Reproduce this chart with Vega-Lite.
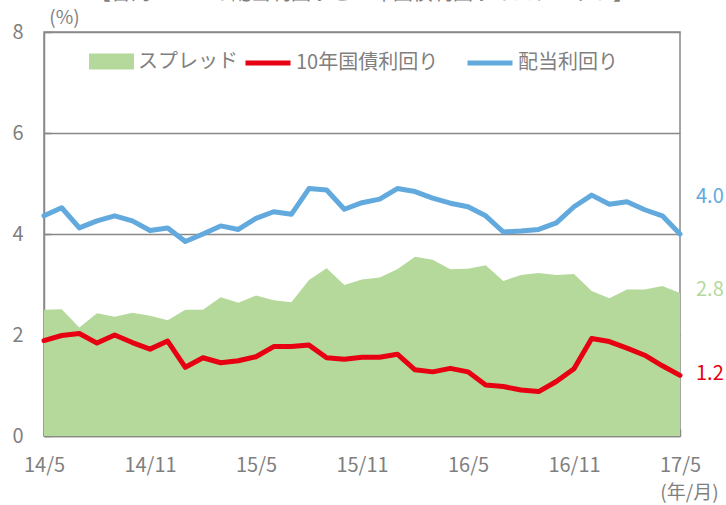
{
  "$schema": "https://vega.github.io/schema/vega-lite/v6.json",
  "width": 636,
  "height": 404,
  "autosize": "none",
  "padding": {"left": 44, "top": 32, "right": 46, "bottom": 69},
  "background": "white",
  "title": {
    "text": "【台湾リートの配当利回りと10年国債利回りのスプレッド】",
    "fontSize": 20,
    "fontWeight": "normal",
    "color": "#7f7f7f",
    "font": "Noto Sans CJK JP",
    "anchor": "middle",
    "offset": 4
  },
  "config": {
    "view": {"stroke": "#898989", "strokeWidth": 1.5},
    "font": "Noto Sans CJK JP"
  },
  "data": {
    "values": [
      {"month": "14/5", "spread": 2.50, "bond": 1.89, "dividend": 4.36},
      {"month": "14/6", "spread": 2.51, "bond": 1.99, "dividend": 4.52},
      {"month": "14/7", "spread": 2.15, "bond": 2.03, "dividend": 4.12},
      {"month": "14/8", "spread": 2.43, "bond": 1.84, "dividend": 4.26},
      {"month": "14/9", "spread": 2.36, "bond": 2.00, "dividend": 4.36},
      {"month": "14/10", "spread": 2.44, "bond": 1.85, "dividend": 4.26},
      {"month": "14/11", "spread": 2.38, "bond": 1.72, "dividend": 4.07},
      {"month": "14/12", "spread": 2.29, "bond": 1.88, "dividend": 4.12},
      {"month": "15/1", "spread": 2.50, "bond": 1.36, "dividend": 3.85},
      {"month": "15/2", "spread": 2.50, "bond": 1.55, "dividend": 4.00},
      {"month": "15/3", "spread": 2.75, "bond": 1.45, "dividend": 4.16},
      {"month": "15/4", "spread": 2.64, "bond": 1.49, "dividend": 4.09},
      {"month": "15/5", "spread": 2.78, "bond": 1.57, "dividend": 4.31},
      {"month": "15/6", "spread": 2.69, "bond": 1.77, "dividend": 4.44},
      {"month": "15/7", "spread": 2.65, "bond": 1.77, "dividend": 4.39},
      {"month": "15/8", "spread": 3.09, "bond": 1.80, "dividend": 4.90},
      {"month": "15/9", "spread": 3.32, "bond": 1.55, "dividend": 4.87},
      {"month": "15/10", "spread": 2.99, "bond": 1.52, "dividend": 4.49},
      {"month": "15/11", "spread": 3.10, "bond": 1.56, "dividend": 4.62},
      {"month": "15/12", "spread": 3.14, "bond": 1.56, "dividend": 4.69},
      {"month": "16/1", "spread": 3.30, "bond": 1.62, "dividend": 4.90},
      {"month": "16/2", "spread": 3.55, "bond": 1.31, "dividend": 4.84},
      {"month": "16/3", "spread": 3.49, "bond": 1.27, "dividend": 4.71},
      {"month": "16/4", "spread": 3.30, "bond": 1.34, "dividend": 4.61},
      {"month": "16/5", "spread": 3.31, "bond": 1.27, "dividend": 4.54},
      {"month": "16/6", "spread": 3.38, "bond": 1.01, "dividend": 4.36},
      {"month": "16/7", "spread": 3.07, "bond": 0.98, "dividend": 4.04},
      {"month": "16/8", "spread": 3.19, "bond": 0.91, "dividend": 4.06},
      {"month": "16/9", "spread": 3.23, "bond": 0.88, "dividend": 4.09},
      {"month": "16/10", "spread": 3.19, "bond": 1.08, "dividend": 4.22},
      {"month": "16/11", "spread": 3.21, "bond": 1.33, "dividend": 4.54},
      {"month": "16/12", "spread": 2.87, "bond": 1.93, "dividend": 4.77},
      {"month": "17/1", "spread": 2.73, "bond": 1.87, "dividend": 4.59},
      {"month": "17/2", "spread": 2.90, "bond": 1.74, "dividend": 4.64},
      {"month": "17/3", "spread": 2.90, "bond": 1.60, "dividend": 4.48},
      {"month": "17/4", "spread": 2.97, "bond": 1.39, "dividend": 4.36},
      {"month": "17/5", "spread": 2.83, "bond": 1.20, "dividend": 4.00}
    ]
  },
  "transform": [{"fold": ["spread", "bond", "dividend"], "as": ["series", "value"]}],
  "encoding": {
    "x": {
      "field": "month",
      "type": "ordinal",
      "sort": null,
      "scale": {"type": "point", "padding": 0},
      "axis": {
        "values": ["14/5", "14/11", "15/5", "15/11", "16/5", "16/11", "17/5"],
        "labelAngle": 0,
        "labelFontSize": 20,
        "labelColor": "#7f7f7f",
        "labelPadding": 26,
        "domainColor": "#898989",
        "domainWidth": 1.5,
        "tickColor": "#898989",
        "tickWidth": 1.5,
        "tickSize": -7,
        "grid": false,
        "title": "(年/月)",
        "titleFontSize": 19,
        "titleFontWeight": "normal",
        "titleColor": "#7f7f7f",
        "titleAngle": 0,
        "titleX": 645,
        "titleY": 56,
        "titleAlign": "center",
        "titleBaseline": "middle"
      }
    },
    "y": {
      "field": "value",
      "type": "quantitative",
      "scale": {"domain": [0, 8], "nice": false},
      "axis": {
        "values": [0, 2, 4, 6, 8],
        "labelFontSize": 20,
        "labelColor": "#7f7f7f",
        "labelPadding": 28,
        "domainColor": "#898989",
        "domainWidth": 1.5,
        "tickColor": "#898989",
        "tickWidth": 1.5,
        "tickSize": -7,
        "grid": true,
        "gridColor": "#898989",
        "gridWidth": 1.5,
        "title": "(%)",
        "titleFontSize": 19,
        "titleFontWeight": "normal",
        "titleColor": "#7f7f7f",
        "titleAngle": 0,
        "titleX": 20,
        "titleY": -15,
        "titleAlign": "center",
        "titleBaseline": "middle"
      }
    }
  },
  "layer": [
    {
      "transform": [{"filter": "datum.series === 'spread'"}],
      "mark": {"type": "area", "opacity": 1},
      "encoding": {
        "fill": {
          "field": "series",
          "type": "nominal",
          "scale": {"domain": ["spread"], "range": ["#b4d99a"]},
          "legend": {
            "orient": "none",
            "legendX": 44,
            "legendY": 6,
            "direction": "horizontal",
            "title": null,
            "labelFontSize": 20,
            "labelColor": "#7f7f7f",
            "labelOffset": 3,
            "symbolSize": 2025,
            "symbolOpacity": 1,
            "symbolType": "M-1,-0.36H1V0.36H-1Z",
            "labelExpr": "'スプレッド'"
          }
        }
      }
    },
    {
      "transform": [{"filter": "datum.series !== 'spread'"}],
      "mark": {"type": "line", "strokeWidth": 5, "strokeJoin": "round", "strokeCap": "round"},
      "encoding": {
        "stroke": {
          "field": "series",
          "type": "nominal",
          "scale": {"domain": ["bond", "dividend"], "range": ["#e60012", "#62a9de"]},
          "legend": {
            "orient": "none",
            "legendX": 199,
            "legendY": 6,
            "direction": "horizontal",
            "title": null,
            "labelFontSize": 20,
            "labelColor": "#7f7f7f",
            "labelOffset": 3,
            "columnPadding": 18,
            "symbolSize": 2025,
            "symbolType": "stroke",
            "symbolStrokeWidth": 5,
            "symbolOpacity": 1,
            "labelExpr": "datum.value === 'bond' ? '10年国債利回り' : '配当利回り'"
          }
        }
      }
    },
    {
      "transform": [{"filter": "datum.month === '17/5' && datum.series === 'dividend'"}],
      "mark": {"type": "text", "align": "left", "baseline": "middle", "dx": 16, "dy": -37, "fontSize": 20, "color": "#62a9de"},
      "encoding": {"text": {"field": "value", "type": "quantitative", "format": ".1f"}}
    },
    {
      "transform": [{"filter": "datum.month === '17/5' && datum.series === 'spread'"}],
      "mark": {"type": "text", "align": "left", "baseline": "middle", "dx": 16, "dy": -3, "fontSize": 20, "color": "#b4d99a"},
      "encoding": {"text": {"field": "value", "type": "quantitative", "format": ".1f"}}
    },
    {
      "transform": [{"filter": "datum.month === '17/5' && datum.series === 'bond'"}],
      "mark": {"type": "text", "align": "left", "baseline": "middle", "dx": 16, "dy": -1, "fontSize": 20, "color": "#e60012"},
      "encoding": {"text": {"field": "value", "type": "quantitative", "format": ".1f"}}
    }
  ]
}
